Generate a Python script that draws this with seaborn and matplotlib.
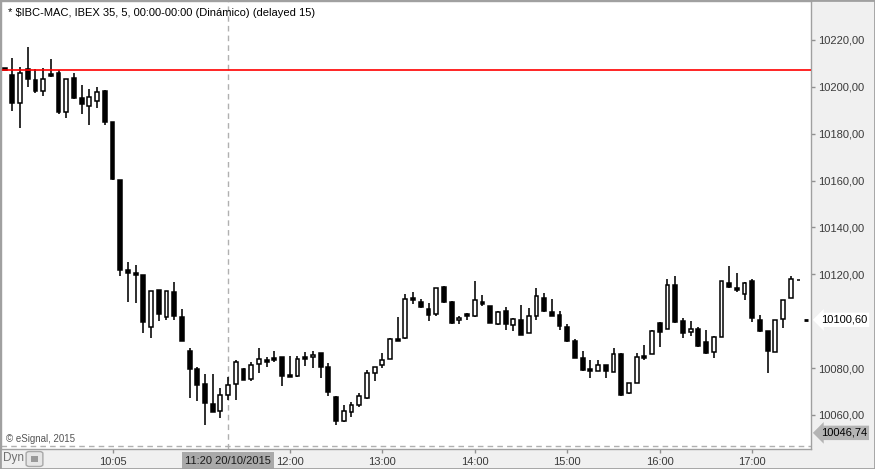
import numpy as np
import pandas as pd
import matplotlib
matplotlib.use("Agg")
import matplotlib.pyplot as plt
import seaborn as sns
from matplotlib.patches import Rectangle, FancyBboxPatch

# ---------------- data (5-minute bars, IBEX 35, 20/10/2015) ----------------
start_time = "2015-10-20 08:55"
opens = [10207.9, 10205.1, 10193.0, 10207.5, 10202.9, 10198.4, 10205.6, 10206.0, 10189.2, 10203.7,
         10195.1, 10191.8, 10194.0, 10198.2, 10184.9, 10160.3, 10121.9, 10120.7, 10119.7, 10097.7,
         10113.3, 10101.9, 10112.5, 10101.8, 10087.3, 10079.6, 10073.2, 10064.7, 10061.8, 10068.4,
         10073.1, 10079.5, 10075.4, 10081.6, 10083.5, 10084.2, 10084.6, 10076.9, 10076.8, 10084.6,
         10084.6, 10086.3, 10080.4, 10067.6, 10057.6, 10061.4, 10064.3, 10067.4, 10077.8, 10081.2,
         10084.0, 10092.3, 10093.0, 10109.9, 10108.1, 10105.1, 10103.0, 10114.7, 10108.2, 10100.4,
         10103.0, 10102.4, 10108.2, 10106.5, 10099.0, 10104.4, 10098.4, 10100.5, 10094.9, 10102.4,
         10109.8, 10103.9, 10102.7, 10097.5, 10091.6, 10084.2, 10079.5, 10078.6, 10081.3, 10078.2,
         10086.0, 10069.3, 10073.8, 10085.2, 10085.9, 10099.4, 10096.6, 10115.5, 10100.1, 10095.5,
         10096.7, 10091.0, 10086.8, 10093.2, 10116.2, 10114.1, 10111.5, 10117.2, 10100.5, 10095.8,
         10087.0, 10100.8, 10109.8, 10117.8]
highs = [10207.9, 10212.2, 10208.4, 10217.1, 10207.6, 10207.9, 10211.9, 10207.2, 10203.2, 10206.0,
         10200.8, 10199.0, 10200.1, 10198.7, 10185.1, 10160.3, 10125.4, 10124.0, 10119.7, 10112.9,
         10113.3, 10112.9, 10116.9, 10105.2, 10088.6, 10080.5, 10077.5, 10077.5, 10071.4, 10076.1,
         10083.5, 10079.9, 10082.5, 10088.5, 10084.6, 10087.4, 10084.7, 10085.2, 10085.2, 10086.8,
         10087.3, 10086.3, 10082.1, 10068.1, 10064.3, 10065.7, 10069.3, 10079.2, 10080.4, 10086.6,
         10092.9, 10101.9, 10111.6, 10112.5, 10109.5, 10107.7, 10114.1, 10115.0, 10108.6, 10102.4,
         10103.6, 10117.0, 10111.2, 10106.5, 10104.4, 10106.2, 10101.5, 10106.9, 10105.5, 10114.3,
         10112.2, 10109.5, 10104.4, 10098.8, 10092.4, 10087.3, 10083.5, 10083.5, 10081.3, 10088.5,
         10086.3, 10073.5, 10086.3, 10089.9, 10096.3, 10099.8, 10117.9, 10119.3, 10101.3, 10100.1,
         10097.7, 10096.3, 10093.7, 10117.2, 10123.6, 10120.5, 10116.9, 10118.0, 10102.7, 10095.8,
         10100.5, 10109.1, 10119.3, 10117.8]
lows = [10207.3, 10189.8, 10182.3, 10200.1, 10197.3, 10196.2, 10204.3, 10188.4, 10186.9, 10194.7,
        10188.4, 10183.7, 10190.9, 10183.7, 10160.3, 10119.4, 10108.3, 10107.7, 10095.1, 10093.0,
        10100.2, 10100.5, 10100.5, 10091.7, 10067.3, 10066.1, 10055.7, 10061.4, 10058.8, 10066.4,
        10066.4, 10074.9, 10074.5, 10078.0, 10080.6, 10082.5, 10072.5, 10076.3, 10076.3, 10081.0,
        10079.9, 10075.7, 10068.2, 10055.7, 10057.1, 10059.0, 10063.5, 10066.8, 10074.6, 10080.2,
        10084.0, 10091.7, 10092.6, 10107.2, 10105.8, 10100.2, 10102.4, 10107.7, 10098.7, 10099.0,
        10100.7, 10101.9, 10106.6, 10099.1, 10098.5, 10096.3, 10096.0, 10094.1, 10094.9, 10100.5,
        10103.8, 10102.4, 10096.3, 10091.1, 10084.4, 10078.8, 10075.9, 10078.6, 10075.7, 10078.2,
        10068.1, 10068.8, 10073.5, 10083.5, 10085.9, 10089.1, 10096.6, 10099.4, 10093.0, 10093.8,
        10088.9, 10086.0, 10084.2, 10093.2, 10114.3, 10112.6, 10109.1, 10099.8, 10095.5, 10078.0,
        10087.0, 10097.2, 10109.8, 10117.8]
closes = [10207.3, 10193.2, 10205.8, 10203.2, 10198.4, 10203.2, 10204.8, 10189.4, 10203.2, 10195.1,
          10192.6, 10195.8, 10197.9, 10185.1, 10160.6, 10121.9, 10120.7, 10119.9, 10099.8, 10112.9,
          10103.1, 10112.9, 10102.4, 10091.7, 10079.6, 10072.8, 10065.2, 10061.4, 10068.5, 10072.8,
          10082.5, 10074.9, 10081.3, 10083.8, 10082.7, 10083.5, 10076.8, 10076.3, 10083.8, 10083.9,
          10085.5, 10080.6, 10069.9, 10057.6, 10061.7, 10064.1, 10068.0, 10077.8, 10080.4, 10083.5,
          10092.3, 10091.7, 10109.4, 10109.2, 10106.2, 10102.8, 10114.1, 10108.3, 10099.4, 10101.3,
          10102.4, 10109.1, 10107.2, 10099.4, 10103.9, 10098.7, 10100.8, 10094.1, 10102.2, 10110.8,
          10104.4, 10102.4, 10098.1, 10091.6, 10084.4, 10079.2, 10078.8, 10081.2, 10078.6, 10086.0,
          10068.5, 10073.5, 10084.6, 10084.3, 10095.8, 10095.5, 10115.5, 10099.8, 10094.9, 10096.7,
          10089.4, 10086.6, 10093.2, 10117.2, 10114.6, 10113.3, 10116.2, 10101.3, 10096.0, 10087.4,
          10100.5, 10109.1, 10117.9, 10117.8]

time_tick_labels = ["10:05", "12:00", "13:00", "14:00", "15:00", "16:00", "17:00"]
price_ticks = [10060, 10080, 10120, 10140, 10160, 10180, 10200, 10220]
reference_level = 10207.2
last_price = 10100.60
cursor_time = "11:20"
cursor_date = "20/10/2015"
cursor_price = 10046.74
title = "* $IBC-MAC, IBEX 35, 5, 00:00-00:00 (Dinámico) (delayed 15)"

# ---------------- figure ----------------
sns.set_style("white")
plt.rcParams["font.family"] = ["Liberation Sans", "DejaVu Sans"]

df = pd.DataFrame({"open": opens, "high": highs, "low": lows, "close": closes})
df["time"] = pd.date_range(start_time, periods=len(df), freq="5min")
df["pos"] = np.arange(len(df))
df["up"] = df["close"] > df["open"]
df["hhmm"] = df["time"].dt.strftime("%H:%M")

W, H = 875, 469
fig = plt.figure(figsize=(W / 100, H / 100), dpi=100, facecolor="#f0f0f0")
ax = fig.add_axes([1 / W, (H - 449) / H, 810 / W, 448 / H])
ax.set_facecolor("white")

# wicks
ax.vlines(df["pos"], df["low"], df["high"], color="black", lw=1.15, zorder=2)
# bodies
body_bottom = np.minimum(df["open"], df["close"])
body_height = (df["close"] - df["open"]).abs()
ax.bar(df["pos"], body_height, bottom=body_bottom, width=0.5,
       color=np.where(df["up"], "white", "black"), edgecolor="black",
       linewidth=1.1, zorder=3)

ax.set_xlim(-0.467, 104.62)
ax.set_ylim(10045.49, 10236.64)

# reference line and crosshair
ax.axhline(reference_level, color="#ff0000", lw=1.2, zorder=4)
cursor_pos = df.index[df["hhmm"] == cursor_time][0]
ax.axvline(cursor_pos, color="#b0b0b0", lw=1, ls=(0, (4, 3)), zorder=1)
ax.axhline(cursor_price, color="#b0b0b0", lw=1, ls=(0, (4, 3)), zorder=1)

# last price marker
n = len(df)
ax.plot([n - 0.3, n + 0.2], [last_price, last_price], color="black", lw=2, zorder=4,
        solid_capstyle="butt")

# axes / ticks
tick_pos = [df.index[df["hhmm"] == t][0] for t in time_tick_labels]
ax.set_xticks(tick_pos)
ax.set_xticklabels(time_tick_labels)
ax.yaxis.tick_right()
ax.set_yticks(price_ticks)
ax.set_yticklabels([f"{v:.2f}".replace(".", ",") for v in price_ticks])
ax.tick_params(axis="x", bottom=True, length=3, width=1, color="#909090",
               labelsize=8, labelcolor="#3a3a3a", pad=3)
ax.tick_params(axis="y", right=True, left=False, length=3, width=1, color="#909090",
               labelsize=8, labelcolor="#3a3a3a", pad=2)
for s in ax.spines.values():
    s.set_color("#a0a0a0")
    s.set_linewidth(1)

# title and watermark
ax.text(7 / 810, 1 - 12 / 448, title, transform=ax.transAxes, fontsize=8,
        color="black", ha="left", va="center")
ax.text(5 / 810, 10 / 448, "© eSignal, 2015", transform=ax.transAxes, fontsize=7,
        color="#555555", ha="left", va="center")

# cursor time label
ax.annotate(f"{cursor_time} {cursor_date}", xy=(cursor_pos, 0),
            xycoords=("data", "axes fraction"), xytext=(0, -8.3),
            textcoords="offset points", ha="center", va="center", fontsize=8,
            color="#1a1a1a", zorder=10, annotation_clip=False,
            bbox=dict(boxstyle="square,pad=0.28", fc="#a9a9a9", ec="none"))

# price labels on the right
ax.annotate(f"{last_price:.2f}".replace(".", ","), xy=(1, last_price),
            xycoords=("axes fraction", "data"), xytext=(7, 0),
            textcoords="offset points", ha="left", va="center", fontsize=8,
            color="black", annotation_clip=False,
            bbox=dict(boxstyle="larrow,pad=0.2", fc="white", ec="none"))
ax.annotate(f"{cursor_price:.2f}".replace(".", ","), xy=(1, cursor_price),
            xycoords=("axes fraction", "data"), xytext=(7, 9.5),
            textcoords="offset points", ha="left", va="center", fontsize=8,
            color="black", annotation_clip=False,
            bbox=dict(boxstyle="larrow,pad=0.2", fc="#b4b4b4", ec="none"))

# bottom-left "Dyn" + lock button
fig.text(3 / W, 1 - 458 / H, "Dyn", fontsize=8.5, color="#707070", ha="left", va="center")
fig.patches.append(FancyBboxPatch((27 / W, 1 - 466 / H), 15 / W, 14 / H,
                                  boxstyle="round,pad=0.001,rounding_size=0.004",
                                  transform=fig.transFigure, fc="#e6e6e6", ec="#a8a8a8", lw=1))
fig.patches.append(Rectangle((31 / W, 1 - 462 / H), 7 / W, 6 / H,
                             transform=fig.transFigure, fc="#9a9a9a", ec="none"))

# outer frame
fig.patches.append(Rectangle((0, 0), 1, 1, transform=fig.transFigure, fill=False,
                             ec="#a0a0a0", lw=2))

fig.savefig("out.png", dpi=100, facecolor=fig.get_facecolor())
